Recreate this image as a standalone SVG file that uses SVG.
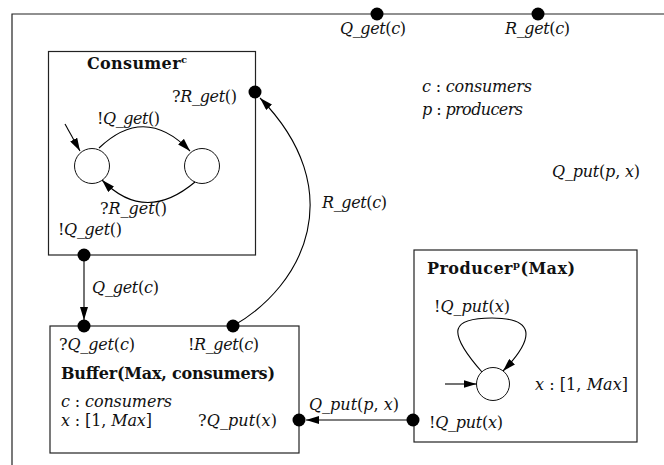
<svg xmlns="http://www.w3.org/2000/svg" width="664" height="465" viewBox="0 0 664 465">
<style>
.frame{fill:none;stroke:#222;stroke-width:1.2}
.box{fill:none;stroke:#222;stroke-width:1.2}
.st{fill:#fff;stroke:#111;stroke-width:1}
.port{fill:#000}
.edge{fill:none;stroke:#000;stroke-width:1.1}
text{font-family:"DejaVu Serif","Liberation Serif",serif;font-size:16px;fill:#111}
.m{font-style:italic}
.u{font-style:normal}
.b{font-weight:bold}
.sup{font-size:10px;font-weight:bold}
</style>
<defs>
<marker id="ah" viewBox="0 0 13 8" refX="13" refY="4" markerWidth="13" markerHeight="8" orient="auto" markerUnits="userSpaceOnUse"><path d="M0,0 L13,4 L0,8 z" fill="#000"/></marker>
</defs>

<g id="frame">
<path class="frame" d="M664,14 H12 V465"/>
<circle class="port" cx="377" cy="14" r="6.5"/>
<circle class="port" cx="538" cy="14" r="6.5"/>
<text class="m" x="340" y="34" textLength="66">Q_get<tspan class="u">(</tspan>c<tspan class="u">)</tspan></text>
<text class="m" x="505" y="34" textLength="65">R_get<tspan class="u">(</tspan>c<tspan class="u">)</tspan></text>
<text class="m" x="422" y="92" textLength="110">c <tspan class="u">:</tspan> consumers</text>
<text class="m" x="422" y="115" textLength="101">p <tspan class="u">:</tspan> producers</text>
<text class="m" x="552" y="177" textLength="88">Q_put<tspan class="u">(</tspan>p<tspan class="u">, </tspan>x<tspan class="u">)</tspan></text>
</g>

<g id="consumer">
<rect class="box" x="48.5" y="51.5" width="207" height="203.5"/>
<text class="b" x="87" y="69" textLength="100">Consumer<tspan class="sup" dy="-6">c</tspan></text>
<text class="m" x="172" y="102" textLength="65"><tspan class="u">?</tspan>R_get<tspan class="u">()</tspan></text>
<text class="m" x="97" y="124" textLength="63"><tspan class="u">!</tspan>Q_get<tspan class="u">()</tspan></text>
<text class="m" x="100" y="214" textLength="67"><tspan class="u">?</tspan>R_get<tspan class="u">()</tspan></text>
<text class="m" x="58" y="235" textLength="64"><tspan class="u">!</tspan>Q_get<tspan class="u">()</tspan></text>
<circle class="st" cx="92" cy="166" r="17.5"/>
<circle class="st" cx="202" cy="166" r="17.5"/>
<path class="edge" d="M65,124 L80,151" marker-end="url(#ah)"/>
<path class="edge" d="M99,148 Q145,104 190,151" marker-end="url(#ah)"/>
<path class="edge" d="M195,182 Q145,224 102,180" marker-end="url(#ah)"/>
<circle class="port" cx="255" cy="92" r="6.5"/>
<circle class="port" cx="84" cy="255" r="6.5"/>
</g>

<g id="buffer">
<rect class="box" x="50" y="326" width="249" height="127"/>
<text class="m" x="59" y="350" textLength="76"><tspan class="u">?</tspan>Q_get<tspan class="u">(</tspan>c<tspan class="u">)</tspan></text>
<text class="m" x="188" y="350" textLength="71"><tspan class="u">!</tspan>R_get<tspan class="u">(</tspan>c<tspan class="u">)</tspan></text>
<text class="b" x="61" y="379" textLength="214">Buffer(Max, consumers)</text>
<text class="m" x="61" y="407" textLength="111">c <tspan class="u">:</tspan> consumers</text>
<text class="m" x="61" y="426" textLength="91">x <tspan class="u">: [1, </tspan>Max<tspan class="u">]</tspan></text>
<text class="m" x="198" y="426" textLength="79"><tspan class="u">?</tspan>Q_put<tspan class="u">(</tspan>x<tspan class="u">)</tspan></text>
<circle class="port" cx="84" cy="326" r="6.5"/>
<circle class="port" cx="233" cy="326" r="6.5"/>
<circle class="port" cx="299" cy="420" r="6.5"/>
</g>

<g id="producer">
<rect class="box" x="414" y="250" width="223" height="192"/>
<text class="b" x="427" y="274" textLength="148">Producer<tspan class="sup" dy="-6">p</tspan><tspan dy="6">(Max)</tspan></text>
<text class="m" x="434" y="312" textLength="76"><tspan class="u">!</tspan>Q_put<tspan class="u">(</tspan>x<tspan class="u">)</tspan></text>
<text class="m" x="535" y="390" textLength="93">x <tspan class="u">: [1, </tspan>Max<tspan class="u">]</tspan></text>
<text class="m" x="429" y="428" textLength="74"><tspan class="u">!</tspan>Q_put<tspan class="u">(</tspan>x<tspan class="u">)</tspan></text>
<circle class="st" cx="493" cy="384" r="16.5"/>
<path class="edge" d="M445,384 L476.5,384" marker-end="url(#ah)"/>
<path class="edge" d="M482,372 C445,330 452,318 492,318 C532,318 538,335 503,371" marker-end="url(#ah)"/>
<circle class="port" cx="413" cy="420" r="6.5"/>
</g>

<g id="connectors">
<path class="edge" d="M84,261 L84,320" marker-end="url(#ah)"/>
<path class="edge" d="M233,326 C305,285 350,190 260,98" marker-end="url(#ah)"/>
<path class="edge" d="M413,420 L306,420" marker-end="url(#ah)"/>
<text class="m" x="92" y="293" textLength="67">Q_get<tspan class="u">(</tspan>c<tspan class="u">)</tspan></text>
<text class="m" x="322" y="208" textLength="65">R_get<tspan class="u">(</tspan>c<tspan class="u">)</tspan></text>
<text class="m" x="309" y="410" textLength="90">Q_put<tspan class="u">(</tspan>p<tspan class="u">, </tspan>x<tspan class="u">)</tspan></text>
</g>
</svg>
